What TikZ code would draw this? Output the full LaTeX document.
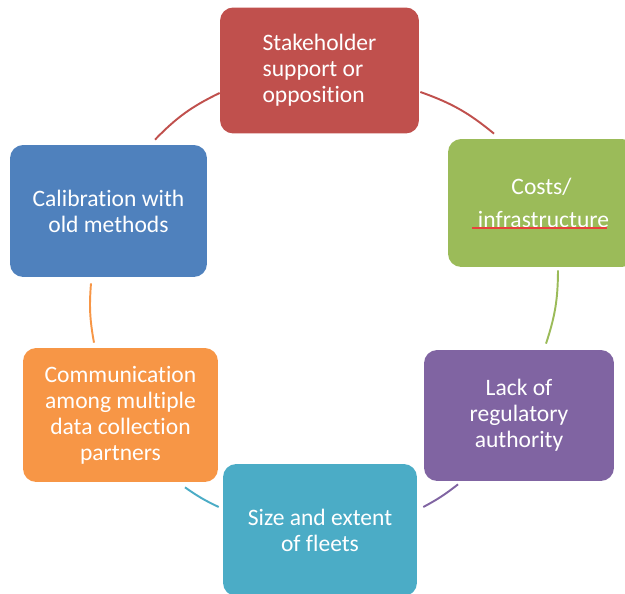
\documentclass[tikz,border=0pt]{standalone}
\usepackage{fontspec}
\setmainfont{Carlito}[Ligatures=NoCommon]
\definecolor{stakered}{HTML}{C0504D}
\definecolor{costgreen}{HTML}{9BBB59}
\definecolor{regpurple}{HTML}{8064A2}
\definecolor{fleetcyan}{HTML}{4BACC6}
\definecolor{commorange}{HTML}{F79646}
\definecolor{calibblue}{HTML}{4F81BD}
\definecolor{spellred}{HTML}{E8413C}
\newcommand{\ringlink}[4]
{\draw[#1,line width=1.1pt] (#2) to[bend left=#4] (#3);
}

\begin{document}
\begin{tikzpicture}[x={(0.02cm,0)},y={(0,0.02cm)},
	box/.style={fill=#1,rounded corners=7.5pt,text=white,inner sep=0pt,
		font=\fontsize{13.4}{14.8}\selectfont}]
\useasboundingbox (0,0) rectangle (625,594);

% the six boxes round the ring
\node[box=stakered,align=left,minimum width=3.98cm,minimum height=2.52cm] (stake) at (319.5,523.5) {Stakeholder\\support or\\opposition};
\node[box=costgreen,align=center,minimum width=3.74cm,minimum height=2.56cm] (costs) at (541.5,391) {Costs/\\[4pt]\,infrastructure};
\node[box=regpurple,align=center,minimum width=3.8cm,minimum height=2.62cm] (reg) at (519,178.5) {Lack of\\regulatory\\authority};
\node[box=fleetcyan,align=center,minimum width=3.88cm,minimum height=2.64cm] (fleets) at (320,64) {Size and extent\\of fleets};
\node[box=commorange,align=center,minimum width=3.9cm,minimum height=2.68cm] (comm) at (120.5,179) {Communication\\among multiple\\data collection\\partners};
\node[box=calibblue,align=center,minimum width=3.94cm,minimum height=2.64cm] (calib) at (108.5,383) {Calibration with\\old methods};

% spelling mark under infrastructure
\draw[spellred,line width=0.6pt] ([shift={(-69.5,-25)}]costs.center) -- ([shift={(65.5,-25)}]costs.center);

% arcs of the ring
\ringlink{stakered}{[shift={(1,-21.5)}]stake.east}{[shift={(-47.5,5)}]costs.north}{10};
\ringlink{costgreen}{[shift={(16.5,-3)}]costs.south}{[shift={(27,6)}]reg.north}{9};
\ringlink{regpurple}{[shift={(-61,-3)}]reg.south}{[shift={(6,23)}]fleets.east}{5};
\ringlink{fleetcyan}{[shift={(-4,23)}]fleets.west}{[shift={(64.5,-5)}]comm.south}{5};
\ringlink{commorange}{[shift={(-26.5,5)}]comm.north}{[shift={(-17.5,-6)}]calib.south}{7.5};
\ringlink{stakered}{[shift={(46.5,5)}]calib.north}{[shift={(0,-22.5)}]stake.west}{10};

\end{tikzpicture}
\end{document}
